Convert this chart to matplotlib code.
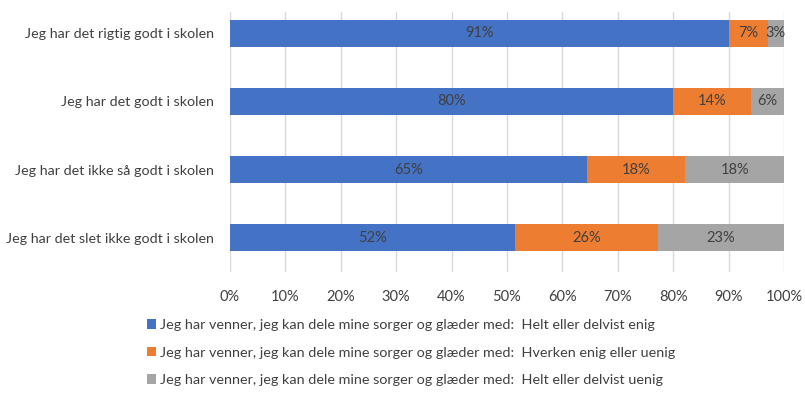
import matplotlib
matplotlib.use("Agg")
import matplotlib.pyplot as plt
from matplotlib.patches import Patch
import numpy as np

categories = [
    "Jeg har det rigtig godt i skolen",
    "Jeg har det godt i skolen",
    "Jeg har det ikke så godt i skolen",
    "Jeg har det slet ikke godt i skolen",
]
enig = [91, 80, 65, 52]
hverken = [7, 14, 18, 26]
uenig = [3, 6, 18, 23]
series_names = [
    "Jeg har venner, jeg kan dele mine sorger og glæder med:  Helt eller delvist enig",
    "Jeg har venner, jeg kan dele mine sorger og glæder med:  Hverken enig eller uenig",
    "Jeg har venner, jeg kan dele mine sorger og glæder med:  Helt eller delvist uenig",
]
colors = ["#4472C4", "#ED7D31", "#A5A5A5"]
xticks = [0, 10, 20, 30, 40, 50, 60, 70, 80, 90, 100]

plt.rcParams["font.family"] = ["Lato", "DejaVu Sans"]
text_color = "#404040"
fs = 10.5

fig = plt.figure(figsize=(8.05, 3.94), dpi=100)
ax = fig.add_axes([0.2857, 0.3096, 0.6882, 0.66])

data = np.array([enig, hverken, uenig], dtype=float)
shares = data / data.sum(axis=0) * 100  # 100% stacked
y = np.arange(len(categories))
left = np.zeros(len(categories))
for vals, pct, col in zip(data, shares, colors):
    ax.barh(y, pct, left=left, height=0.4, color=col, zorder=3)
    for yi, l, w, v in zip(y, left, pct, vals):
        ax.text(l + w / 2, yi, f"{int(v)}%", ha="center", va="center",
                fontsize=fs, color=text_color, zorder=4)
    left += pct

ax.set_xlim(0, 100)
ax.set_ylim(3.507, -0.316)
ax.set_xticks(xticks)
ax.set_xticklabels([f"{t}%" for t in xticks], fontsize=fs, color=text_color)
ax.set_yticks(y)
ax.set_yticklabels(categories, fontsize=10.3, color=text_color)
ax.tick_params(axis="both", length=0)
ax.tick_params(axis="x", pad=13)
ax.tick_params(axis="y", pad=11.5)
ax.grid(axis="x", color="#D9D9D9", linewidth=1, zorder=0)
for s in ax.spines.values():
    s.set_visible(False)

handles = [Patch(facecolor=c, edgecolor="none") for c in colors]
fig.legend(handles, series_names, loc="upper left",
           bbox_to_anchor=(0.182, 0.19), frameon=False, fontsize=10.4,
           labelcolor=text_color, handlelength=0.65, handleheight=0.65,
           handletextpad=0.25, labelspacing=1.07, borderpad=0, borderaxespad=0)

fig.savefig("out.png", dpi=100)
